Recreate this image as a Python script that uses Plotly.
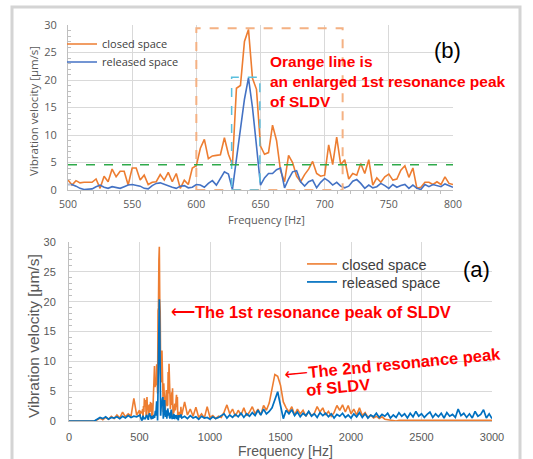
import plotly.graph_objects as go

# ---------------- data: panel (b) 500-800 Hz, 3.125 Hz resolution ----------------
closed_b = [1.8, 0.9, 1.7, 1.3, 1.4, 1.4, 1.4, 2.0, 0.3, 2.5,
            1.5, 3.8, 2.4, 3.4, 3.4, 0.9, 4.0, 4.0, 1.8, 2.7,
            1.0, 1.4, 1.5, 2.8, 1.8, 3.2, 1.5, 3.0, 0.3, 1.8,
            1.0, 4.0, 4.4, 7.6, 9.2, 5.7, 6.2, 6.3, 6.4, 9.5,
            6.5, 4.6, 18.5, 19.0, 27.0, 29.2, 20.3, 18.3, 8.0, 6.5,
            6.8, 11.8, 9.0, 3.5, 1.5, 6.3, 5.0, 2.5, 1.5, 2.8,
            3.8, 5.2, 3.0, 2.5, 2.7, 8.2, 4.6, 9.6, 4.6, 5.5,
            2.0, 3.0, 2.7, 4.8, 3.0, 5.5, 0.9, 2.2, 1.4, 2.4,
            2.9, 1.8, 2.0, 3.6, 4.4, 2.3, 4.0, 0.3, 0.5, 1.4,
            1.4, 1.0, 1.5, 1.0, 2.4, 1.2, 1.0]
released_b = [1.0, 1.0, 0.7, 0.3, 0.1, 0.1, 0.2, 0.6, 0.9, 0.5,
              0.3, 0.6, 0.4, 0.3, 0.6, 0.9, 1.0, 0.9, 0.7, 0.3,
              0.2, 0.8, 1.2, 1.3, 1.0, 0.8, 0.5, 0.3, 0.7, 0.8,
              0.4, 0.5, 1.0, 0.9, 0.5, 1.2, 1.7, 0.9, 2.0, 3.3,
              2.9, 0.1, 5.6, 11.0, 16.5, 20.4, 15.0, 8.0, 0.9, 2.2,
              3.0, 3.0, 3.7, 4.0, 0.4, 2.0, 3.3, 3.5, 1.5, 0.7,
              1.5, 1.8, 0.4, 1.4, 2.1, 1.6, 0.9, 1.4, 0.7, 0.4,
              0.7, 1.6, 1.9, 1.2, 0.3, 0.9, 0.4, 0.6, 1.2, 0.8,
              0.3, 1.0, 0.5, 0.8, 1.0, 0.3, 0.9, 0.3, 0.1, 1.0,
              0.6, 1.0, 0.8, 0.6, 1.1, 0.8, 0.5]
freq_b = [500 + 3.125 * i for i in range(len(closed_b))]

# ---------------- data: panel (a) 0-3000 Hz ----------------
closed_low = [0, 0, 0, 0, 0, 0, 0, 0, 0, 0,
              0.2, 0.5, 0.2, 0.6, 0.3, 0.8, 0.4, 1.0, 0.5, 1.5,
              0.7, 1.2, 0.8, 3.8, 1.0]
released_low = [0, 0, 0, 0, 0, 0, 0, 0, 0, 0,
                0.3, 0.6, 0.4, 0.7, 0.3, 0.6, 0.5, 0.7, 0.4, 0.8,
                0.5, 0.9, 0.6, 0.8, 0.7]
freq_low = [20 * i for i in range(len(closed_low))]

closed_high = [3.2, 1.0, 2.0, 0.8, 2.3, 0.6, 1.2, 0.5, 2.4, 0.6,
               0.9, 0.4, 0.8, 0.6, 1.5, 2.7, 1.2, 2.0, 0.8, 1.8,
               1.0, 2.2, 0.9, 1.5, 2.4, 1.2, 2.0, 1.0, 2.6, 1.8,
               3.0, 5.5, 7.8, 7.5, 6.0, 3.2, 2.2, 1.5, 2.4, 1.0,
               2.0, 1.2, 1.8, 0.8, 1.6, 0.9, 1.3, 2.4, 1.5, 2.2,
               1.0, 1.6, 0.8, 1.4, 2.6, 1.8, 2.7, 1.5, 2.6, 1.2,
               2.0, 1.0, 2.2, 0.9, 1.4, 0.6, 1.0, 0.5, 0.8, 0.4,
               0.7, 0.3, 0.2, 0.1, 0.1, 0.0, 0.1, 0.1, 0.0, 0.1,
               0.1, 0.0, 0.1, 0.0, 0.1, 0.1, 0.0, 0.1, 0.0, 0.1,
               0.1, 0.0, 0.1, 0.0, 0.1, 0.1, 0.0, 0.1, 0.0, 0.1,
               0.1, 0.0, 0.1, 0.0, 0.1, 0.1, 0.0, 0.1, 0.0, 0.1]
released_high = [0.8, 0.4, 0.9, 0.5, 0.7, 0.3, 0.8, 0.5, 0.6, 0.3,
                 0.7, 0.4, 0.6, 0.9, 1.2, 0.5, 1.0, 0.6, 1.1, 0.7,
                 1.3, 0.6, 1.2, 0.8, 1.4, 0.9, 1.8, 1.0, 2.0, 1.2,
                 1.6, 2.2, 3.5, 4.9, 2.6, 0.4, 1.8, 1.2, 1.9, 0.9,
                 1.5, 0.7, 1.3, 0.9, 1.6, 0.8, 1.2, 0.6, 1.4, 0.9,
                 1.3, 0.7, 1.2, 0.5, 1.1, 0.8, 1.3, 0.6, 1.0, 0.5,
                 1.2, 0.7, 1.4, 0.6, 1.2, 0.5, 1.0, 0.7, 1.3, 0.6,
                 1.1, 0.8, 1.3, 0.5, 1.0, 0.6, 1.4, 0.8, 1.2, 0.5,
                 1.3, 0.7, 1.6, 0.8, 1.2, 0.6, 1.1, 1.5, 0.6, 1.2,
                 0.7, 1.3, 0.5, 1.4, 0.8, 1.1, 0.6, 2.0, 0.9, 1.3,
                 0.6, 1.2, 0.5, 1.6, 0.8, 1.1, 1.9, 0.5, 1.2, 0.4]
freq_high = [820 + 20 * i for i in range(len(closed_high))]

freq_a = freq_low + freq_b + freq_high
closed_a = closed_low + closed_b + closed_high
released_a = released_low + released_b + released_high

series_names = ["closed space", "released space"]
threshold_level = 4.6

# ---------------- styling ----------------
W, H = 533, 459
ORANGE = "#ED7D31"
BLUE_B = "#4472C4"
BLUE_A = "#0070C0"
GRID = "#D9D9D9"
TXT = "#595959"
RED = "#FF0000"
FONT_B = "Open Sans"
FONT_A = "Liberation Sans, Arial"


def xf(px):
    return px / W


def yf(py):
    return 1 - py / H


fig = go.Figure()
fig.add_trace(go.Scatter(x=freq_b, y=closed_b, name=series_names[0], mode="lines",
                         line=dict(color=ORANGE, width=1.6), xaxis="x", yaxis="y", legend="legend"))
fig.add_trace(go.Scatter(x=freq_b, y=released_b, name=series_names[1], mode="lines",
                         line=dict(color=BLUE_B, width=1.6), xaxis="x", yaxis="y", legend="legend2"))
fig.add_trace(go.Scatter(x=freq_a, y=closed_a, name=series_names[0], mode="lines",
                         line=dict(color=ORANGE, width=1.6), xaxis="x2", yaxis="y2", legend="legend3"))
fig.add_trace(go.Scatter(x=freq_a, y=released_a, name=series_names[1], mode="lines",
                         line=dict(color=BLUE_A, width=1.7), xaxis="x2", yaxis="y2", legend="legend4"))

axis_common = dict(showgrid=True, gridcolor=GRID, gridwidth=1, zeroline=False, showline=True,
                   linecolor="#BFBFBF", linewidth=1, ticks="", automargin=False)


def leg(px, py, size, family):
    return dict(x=xf(px), y=yf(py), xanchor="left", yanchor="middle", bgcolor="rgba(0,0,0,0)",
                font=dict(family=family, size=size, color="#404040"), itemwidth=30,
                tracegroupgap=0)


fig.update_layout(
    width=W, height=H, margin=dict(l=0, r=0, t=0, b=0, autoexpand=False),
    paper_bgcolor="white", plot_bgcolor="white",
    xaxis=dict(domain=[xf(68), xf(453)], range=[500, 800], dtick=50, tick0=500, anchor="y",
               tickfont=dict(family=FONT_B, size=10.5, color=TXT), ticklabelstandoff=4,
               minor=dict(ticks="outside", ticklen=3, dtick=10, tickcolor="#BFBFBF", showgrid=False),
               **axis_common),
    yaxis=dict(domain=[yf(190), yf(25)], range=[0, 30], dtick=5, anchor="x",
               tickfont=dict(family=FONT_B, size=11, color=TXT), ticklabelstandoff=8,
               minor=dict(ticks="inside", ticklen=3, dtick=1, tickcolor="#BFBFBF", showgrid=False),
               **axis_common),
    xaxis2=dict(domain=[xf(69), xf(492)], range=[0, 3000], dtick=500, tick0=0, anchor="y2",
                tickfont=dict(family=FONT_A, size=11, color=TXT), ticklabelstandoff=6,
                **axis_common),
    yaxis2=dict(domain=[yf(421), yf(242)], range=[0, 30], dtick=5, anchor="x2",
                tickfont=dict(family=FONT_A, size=11, color=TXT), ticklabelstandoff=10,
                minor=dict(ticks="inside", ticklen=3, dtick=1, tickcolor="#BFBFBF", showgrid=False),
                **axis_common),
    legend=leg(62, 44, 11, FONT_B),
    legend2=leg(62, 62, 11, FONT_B),
    legend3=leg(302, 264, 14.5, FONT_A),
    legend4=leg(302, 282, 14.5, FONT_A),
    showlegend=True,
)

# shapes on panel (b)
fig.add_shape(type="rect", xref="x", yref="y", x0=600, x1=714, y0=0, y1=29.4,
              line=dict(color="#F4B183", width=2, dash="dash"), layer="above")
fig.add_shape(type="rect", xref="x", yref="y", x0=627.5, x1=649.5, y0=0, y1=20.5,
              line=dict(color="#5BC0DE", width=1.5, dash="dash"), layer="above")
fig.add_shape(type="line", xref="x", yref="y", x0=500, x1=800, y0=threshold_level, y1=threshold_level,
              line=dict(color="#2EAA4A", width=1.5, dash="dash"), layer="above")
# outer frame
fig.add_shape(type="rect", xref="paper", yref="paper", x0=xf(12), x1=xf(520), y0=yf(475), y1=yf(7),
              line=dict(color="#D4D4D4", width=3), layer="below")

ann = []
# axis titles
ann.append(dict(text="Vibration velocity [μm/s]", x=xf(33), y=yf(111), textangle=-90,
                font=dict(family=FONT_B, size=11.5, color=TXT)))
ann.append(dict(text="Frequency [Hz]", x=xf(266), y=yf(219),
                font=dict(family=FONT_B, size=11, color=TXT)))
ann.append(dict(text="Vibration velocity [μm/s]", x=xf(33), y=yf(336), textangle=-90,
                font=dict(family=FONT_A, size=15.5, color=TXT)))
ann.append(dict(text="Frequency [Hz]", x=xf(285), y=yf(451),
                font=dict(family=FONT_A, size=14, color=TXT)))
# panel labels
ann.append(dict(text="(b)", x=xf(447), y=yf(50), font=dict(family=FONT_A, size=22, color="black")))
ann.append(dict(text="(a)", x=xf(476), y=yf(269), font=dict(family=FONT_A, size=22, color="black")))
# red notes
note_lines = ["Orange line is", "an enlarged 1st resonance peak", "of SLDV"]
ann.append(dict(text="<br>".join("<b>" + t + "</b>" for t in note_lines), x=xf(268), y=yf(82),
                xanchor="left", align="left", font=dict(family=FONT_A, size=15.5, color=RED)))
ann.append(dict(text="⟵<b>The 1st resonance peak of SLDV</b>", x=xf(169), y=yf(312), xanchor="left",
                font=dict(family=FONT_A, size=16.5, color=RED)))
ann.append(dict(text="⟵<b>The 2nd resonance peak</b>", x=xf(392), y=yf(364), textangle=-5.5,
                font=dict(family=FONT_A, size=16.5, color=RED)))
ann.append(dict(text="<b>of SLDV</b>", x=xf(338), y=yf(387), textangle=-5.5,
                font=dict(family=FONT_A, size=16.5, color=RED)))

for a in ann:
    a.setdefault("xref", "paper")
    a.setdefault("yref", "paper")
    a.setdefault("xanchor", "center")
    a.setdefault("yanchor", "middle")
    a.setdefault("showarrow", False)
    fig.add_annotation(**a)

fig.write_html("out.html")
